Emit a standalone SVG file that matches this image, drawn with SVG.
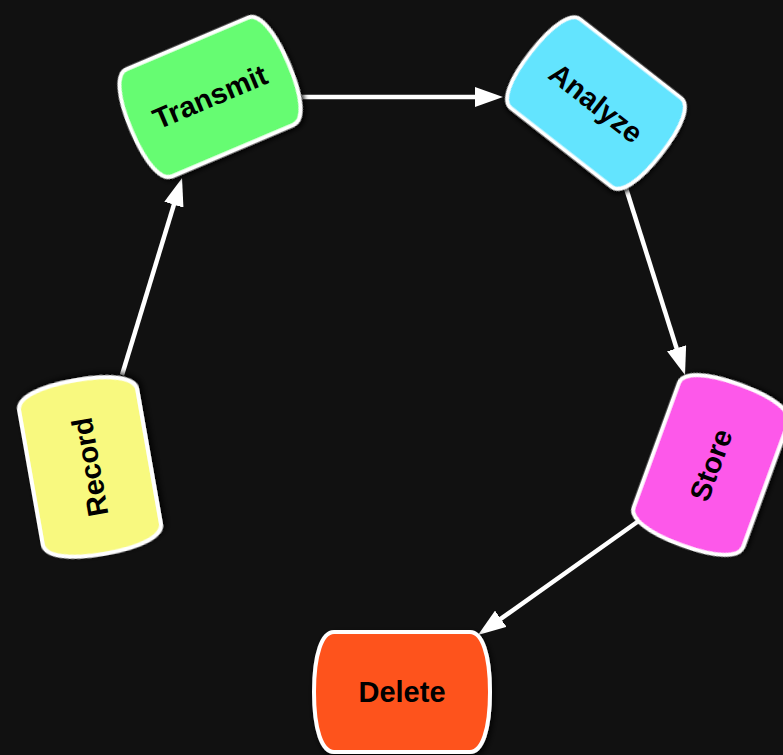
<svg xmlns="http://www.w3.org/2000/svg" xmlns:xlink="http://www.w3.org/1999/xlink" width="783" height="755" viewBox="0 0 783 755">
  <defs>
    <style>
      .node-shape { stroke: #ffffff; stroke-width: 4; filter: url(#shadow); }
      .label { font-family: "Liberation Sans", Arial, sans-serif; font-weight: bold; font-size: 29px; fill: #000000; text-anchor: middle; dominant-baseline: central; }
      .edge { stroke: #ffffff; stroke-width: 4.5; fill: none; marker-end: url(#arrow); }
    </style>
    <filter id="shadow" x="-30%" y="-30%" width="160%" height="160%">
      <feDropShadow dx="2" dy="3" stdDeviation="3" flood-color="#000000" flood-opacity="0.9"/>
    </filter>
    <marker id="arrow" markerUnits="userSpaceOnUse" markerWidth="28" markerHeight="20" refX="8" refY="10" orient="auto">
      <path d="M0,0 L28,10 L0,20 Z" fill="#ffffff"/>
    </marker>
    <!-- barrel shape: straight top/bottom, bulging rounded sides -->
    <path id="barrel" d="M -68,-60 H 68 C 80,-60 88,-38 88,0 C 88,38 80,60 68,60 H -68 C -80,60 -88,38 -88,0 C -88,-38 -80,-60 -68,-60 Z"/>
  </defs>

  <rect width="783" height="755" fill="#111111"/>

  <g id="connectors">
    <line class="edge" x1="122" y1="375" x2="176.2" y2="197.1"/>
    <line class="edge" x1="302" y1="97" x2="483" y2="97"/>
    <line class="edge" x1="625" y1="185" x2="679" y2="355.9"/>
    <line class="edge" x1="640" y1="520" x2="494.3" y2="623.4"/>
  </g>

  <g id="record" transform="translate(90,467) rotate(-100)">
    <use xlink:href="#barrel" class="node-shape" fill="#f8f97f"/>
    <text class="label" x="0" y="0">Record</text>
  </g>

  <g id="transmit" transform="translate(210,97) rotate(-23)">
    <use xlink:href="#barrel" class="node-shape" fill="#66fc72" transform="scale(0.97)"/>
    <text class="label" x="0" y="0">Transmit</text>
  </g>

  <g id="analyze" transform="translate(596,103) rotate(38)">
    <use xlink:href="#barrel" class="node-shape" fill="#63e4fe" transform="scale(0.94)"/>
    <text class="label" x="0" y="0">Analyze</text>
  </g>

  <g id="store" transform="translate(711,465) rotate(-70)">
    <use xlink:href="#barrel" class="node-shape" fill="#fd58ea" transform="scale(0.97)"/>
    <text class="label" x="0" y="0">Store</text>
  </g>

  <g id="delete" transform="translate(402,692)">
    <use xlink:href="#barrel" class="node-shape" fill="#fe531f"/>
    <text class="label" x="0" y="0">Delete</text>
  </g>
</svg>
